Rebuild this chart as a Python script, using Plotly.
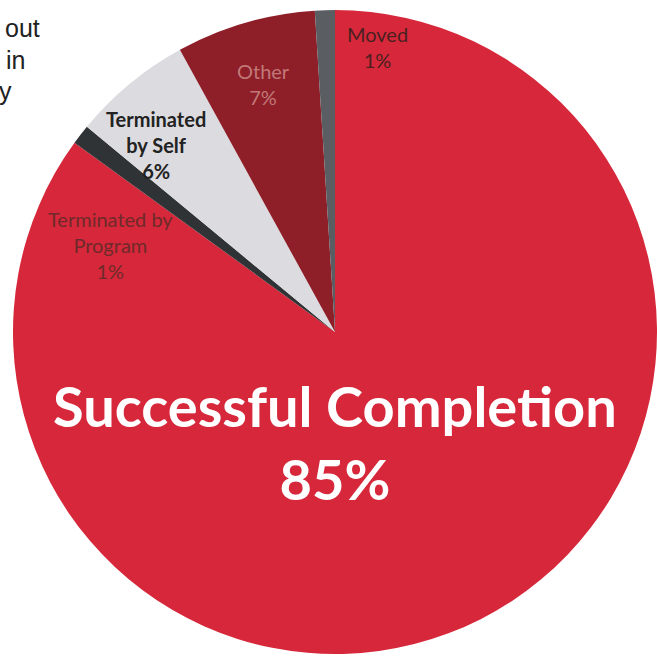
import plotly.graph_objects as go

labels = ["Successful Completion", "Terminated by Program", "Terminated by Self", "Other", "Moved"]
values = [85, 1, 6, 7, 1]
colors = ["#D6283A", "#2F3335", "#DCDCE0", "#8E1F29", "#5A5E63"]

W, H = 657, 661

def px(x, y):
    return x / W, 1 - y / H

fig = go.Figure(go.Pie(
    labels=labels, values=values, sort=False, direction="clockwise", rotation=0,
    marker=dict(colors=colors, line=dict(width=0)),
    textinfo="none", hoverinfo="label+percent", showlegend=False,
    domain=dict(x=[13 / W, 1.0], y=[1 - 654 / H, 1 - 10 / H]),
))

def pct(i):
    return f"{round(100 * values[i] / sum(values))}%"

# label annotations: (index, text lines, x, y, color, size, bold)
label_specs = [
    (4, ["Moved"], 377, 47, "#4A2020", 20, False),
    (3, ["Other"], 263, 84, "#C27878", 20, False),
    (2, ["Terminated", "by Self"], 156, 145, "#222222", 20, True),
    (1, ["Terminated by", "Program"], 110, 245, "#6E2A2A", 20, False),
]
ann = []
for i, lines, x, y, col, size, bold in label_specs:
    txt = "<br>".join(lines + [pct(i)])
    if bold:
        txt = "<b>" + txt + "</b>"
    ax, ay = px(x, y)
    ann.append(dict(text=txt, x=ax, y=ay, xref="paper", yref="paper", showarrow=False,
                    font=dict(family="Lato", size=size, color=col), align="center",
                    xanchor="center", yanchor="middle"))

ax, ay = px(335, 442)
ann.append(dict(text="<b>" + labels[0] + "<br>" + pct(0) + "</b>", x=ax, y=ay,
                xref="paper", yref="paper", showarrow=False,
                font=dict(family="Lato", size=56, color="white"), align="center",
                xanchor="center", yanchor="middle"))

# fragments of surrounding page text
for t, x, y in [("out", 42, 28), ("in", 27, 60), ("y", 14, 91)]:
    ax, ay = px(x, y)
    ann.append(dict(text=t, x=ax, y=ay, xref="paper", yref="paper", showarrow=False,
                    font=dict(family="Liberation Sans", size=25, color="#222222"),
                    xanchor="right", yanchor="middle"))

fig.update_layout(width=W, height=H, margin=dict(l=0, r=0, t=0, b=0),
                  paper_bgcolor="white", plot_bgcolor="white", annotations=ann)
fig.write_html("out.html")
